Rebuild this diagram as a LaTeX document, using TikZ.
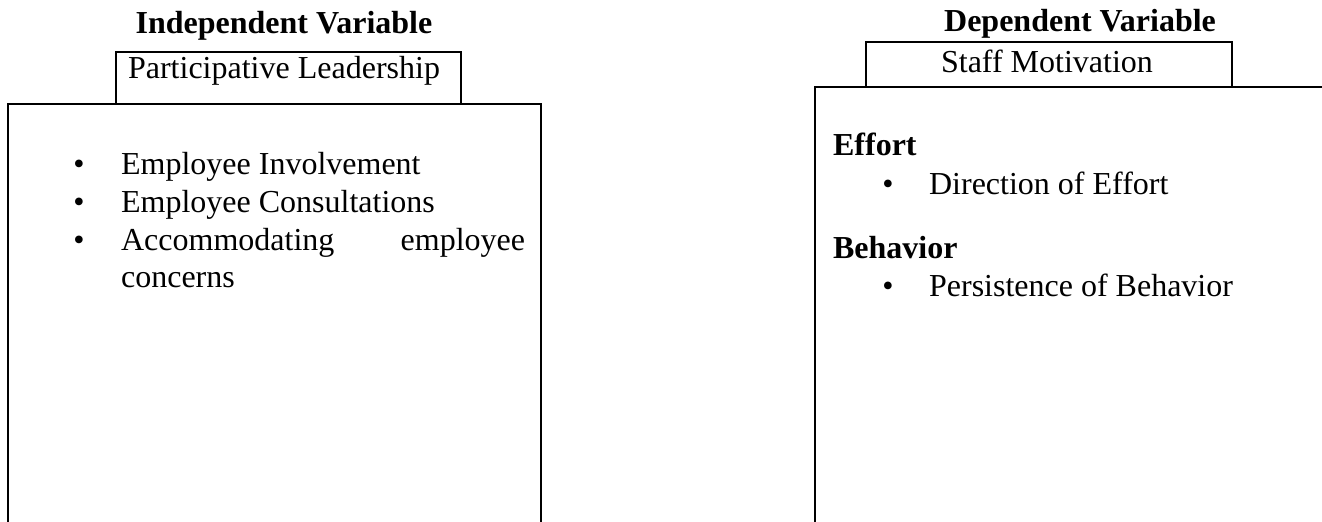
\documentclass[tikz,border=0pt]{standalone}
\usepackage{fontspec}
\setmainfont{Liberation Serif}
\usepackage{tikz}

\begin{document}
\begin{tikzpicture}[x=0.5pt,y=-0.5pt,line width=1.1pt,
    every node/.style={inner sep=0pt,font=\fontsize{16}{19}\selectfont}]
    \useasboundingbox (0,0) rectangle (1322,521);

    % Titles
    \node[anchor=base] (indep) at (284,33) {\bfseries Independent Variable};
    \node[anchor=base] (dep) at (1080,31) {\bfseries Dependent Variable};

    % Left boxes
    \draw (116,104) -- (116,52) -- (461,52) -- (461,104);
    \draw (8,530) -- (8,104) -- (541,104) -- (541,530);
    \node[anchor=base] (lead) at (284,78) {Participative Leadership};

    % Right boxes
    \draw (866,87) -- (866,42) -- (1232,42) -- (1232,87);
    \draw (815,530) -- (815,87) -- (1330,87);
    \node[anchor=base] (motiv) at (1047,72) {Staff Motivation};

    % Left items
    \foreach \y/\t [count=\i] in {174/Employee Involvement, 212/Employee Consultations} {
        \node[anchor=base] (bl\i) at (79,\y) {\textbullet};
        \node[anchor=base west] (il\i) at (120,\y) {\t};
    }
    \node[anchor=base] (bl3) at (79,250) {\textbullet};
    \node[anchor=base west] (il3) at (120,250) {\makebox[202pt][s]{Accommodating\hfill employee}};
    \node[anchor=base west] (il4) at (120,287) {concerns};

    % Right items
    \node[anchor=base west] (effort) at (832,155) {\bfseries Effort};
    \node[anchor=base] (br1) at (888,194) {\textbullet};
    \node[anchor=base west] (ir1) at (928,194) {Direction of Effort};
    \node[anchor=base west] (behav) at (832,258) {\bfseries Behavior};
    \node[anchor=base] (br2) at (888,296) {\textbullet};
    \node[anchor=base west] (ir2) at (928,296) {Persistence of Behavior};
\end{tikzpicture}
\end{document}
